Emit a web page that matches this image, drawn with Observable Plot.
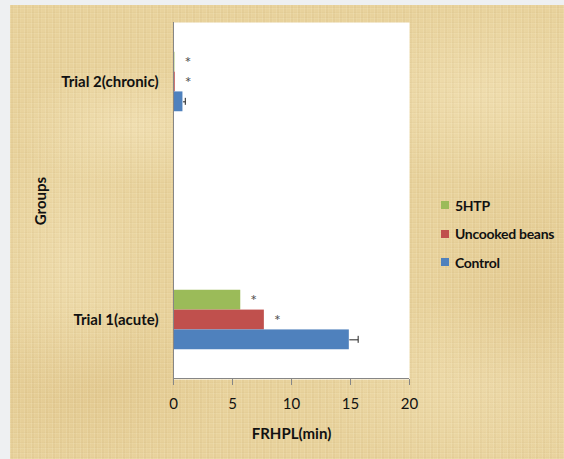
<!DOCTYPE html>
<html>
<head>
<meta charset="utf-8">
<script src="https://cdn.jsdelivr.net/npm/d3@7"></script>
<script src="https://cdn.jsdelivr.net/npm/@observablehq/plot@0.6"></script>
<style>
  html, body { margin: 0; padding: 0; }
  body { width: 564px; height: 459px; background: #eef0f2; position: relative; overflow: hidden; font-family: Lato, "Open Sans", sans-serif; }
  #paper {
    position: absolute; left: 10px; top: 5px; right: 0; bottom: 0;
    background-color: #e8d29c;
    background-image:
      repeating-linear-gradient(90deg, rgba(255,250,225,0.12) 0 1px, rgba(150,110,50,0.04) 1px 3px, rgba(255,245,210,0.07) 3px 4px, transparent 4px 7px),
      repeating-linear-gradient(0deg, rgba(255,250,225,0.10) 0 1px, rgba(150,110,50,0.04) 1px 2px, transparent 2px 5px),
      radial-gradient(ellipse 120px 60px at 120px 120px, rgba(255,245,215,0.35), transparent),
      radial-gradient(ellipse 160px 90px at 470px 90px, rgba(255,245,215,0.30), transparent),
      radial-gradient(ellipse 90px 140px at 60px 260px, rgba(255,245,215,0.25), transparent),
      radial-gradient(ellipse 140px 80px at 80px 380px, rgba(200,160,90,0.18), transparent),
      radial-gradient(ellipse 100px 160px at 520px 300px, rgba(200,160,90,0.15), transparent),
      radial-gradient(ellipse 180px 90px at 480px 380px, rgba(255,245,215,0.25), transparent);
  }
  #chart { position: absolute; left: 0; top: 0; }
  #legend { position: absolute; left: 441px; top: 191px; }
  .item { height: 28.5px; display: flex; align-items: center; font-weight: bold; font-size: 14px; letter-spacing: -0.3px; color: #111; white-space: nowrap; }
  .sw { width: 8px; height: 8px; margin-right: 6px; flex: none; }
</style>
</head>
<body>
<div id="paper"></div>
<div id="chart"></div>
<div id="legend"></div>
<script>
const groups = ["Trial 2(chronic)", "Trial 1(acute)"];
const series = ["5HTP", "Uncooked beans", "Control"];
const colors = ["#9bbb59", "#c0504d", "#4f81bd"];
const trial2Values = [0.12, 0.15, 0.8];
const trial1Values = [5.7, 7.7, 14.9];
const trial2Errors = [0, 0, 0.2];
const trial1Errors = [0, 0, 0.75];
const trial2Stars = ["*", "*", ""];
const trial1Stars = ["*", "*", ""];
const xTicks = [0, 5, 10, 15, 20];
const xLabel = "FRHPL(min)";
const yLabel = "Groups";

const rows = [];
[[groups[0], trial2Values, trial2Errors, trial2Stars], [groups[1], trial1Values, trial1Errors, trial1Stars]]
  .forEach(([g, vals, errs, stars]) => series.forEach((s, k) => rows.push({group: g, series: s, k, value: vals[k], err: errs[k], star: stars[k]})));

const W = 564, H = 459, mL = 173, mR = 155, mT = 22, mB = 80;
const pIn = 0.75, pOut = 0.125;
const bw = (H - mT - mB) / (groups.length - pIn + 2 * pOut) * (1 - pIn);
const slot = bw / 3;
const offs = [-slot, 0, slot];

const marks = [Plot.frame({fill: "white", stroke: "none"})];
series.forEach((s, k) => {
  marks.push(Plot.barX(rows.filter(r => r.series === s), {
    x: "value", y: "group", fill: colors[k], insetTop: k * slot, insetBottom: (2 - k) * slot
  }));
});
series.forEach((s, k) => {
  const withErr = rows.filter(r => r.series === s && r.err > 0);
  marks.push(Plot.link(withErr, {x1: "value", x2: d => d.value + d.err, y1: "group", y2: "group", dy: offs[k], stroke: "#222", strokeWidth: 1}));
  marks.push(Plot.tickX(withErr, {x: d => d.value + d.err, y: "group", stroke: "#222", strokeWidth: 1, insetTop: k * slot + slot / 2 - 3.5, insetBottom: (2 - k) * slot + slot / 2 - 3.5}));
  marks.push(Plot.text(rows.filter(r => r.series === s && r.star), {x: "value", y: "group", text: "star", dx: 13, dy: offs[k] + 1, fontSize: 16, fill: "#505050"}));
});
marks.push(Plot.ruleX([0], {stroke: "#868686"}));
marks.push(Plot.axisX({ticks: xTicks, tickSize: 6, tickPadding: 13, stroke: "#868686", fill: "#111", fontSize: 15, label: null}));
marks.push(Plot.axisY({tickSize: 0, tickPadding: 15, fontSize: 15, fontWeight: "bold", fill: "#111", label: null}));
marks.push(Plot.text([xLabel], {frameAnchor: "bottom", dy: 59, fontSize: 15, fontWeight: "bold", fill: "#111"}));
marks.push(Plot.text([yLabel], {frameAnchor: "left", textAnchor: "middle", dx: -132, rotate: -90, fontSize: 15, fontWeight: "bold", fill: "#111"}));

const plot = Plot.plot({
  width: W, height: H, marginLeft: mL, marginRight: mR, marginTop: mT, marginBottom: mB,
  style: {background: "transparent", fontFamily: "Lato, 'Open Sans', sans-serif", color: "#111", overflow: "visible"},
  x: {domain: [0, 20], ticks: xTicks},
  y: {domain: groups, paddingInner: pIn, paddingOuter: pOut, round: false},
  marks
});
document.getElementById("chart").appendChild(plot);

// bottom axis line from the scales
const xs = plot.scale("x"), ys = plot.scale("y");
d3.select(plot).append("line")
  .attr("x1", xs.range[0]).attr("x2", xs.range[1])
  .attr("y1", ys.range[1] - 0.5).attr("y2", ys.range[1] - 0.5)
  .attr("stroke", "#868686");

const legend = document.getElementById("legend");
series.forEach((s, k) => {
  const it = document.createElement("div");
  it.className = "item";
  it.innerHTML = `<span class="sw" style="background:${colors[k]}"></span>`;
  it.appendChild(document.createTextNode(s));
  legend.appendChild(it);
});
</script>
</body>
</html>
